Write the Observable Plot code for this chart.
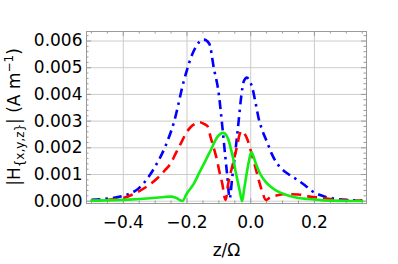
<!DOCTYPE html>
<html>
<head>
<meta charset="utf-8">
<script src="https://cdn.jsdelivr.net/npm/d3@7"></script>
<script src="https://cdn.jsdelivr.net/npm/@observablehq/plot@0.6"></script>
<style>
  html, body { margin: 0; padding: 0; background: #fff; }
  #chart { width: 398px; height: 264px; }
</style>
</head>
<body>
<div id="chart"></div>
<script>
// ---- data ----
const blueZ = [-0.5, -0.45, -0.4, -0.35, -0.3, -0.27, -0.24, -0.21, -0.18, -0.16, -0.147, -0.13, -0.116, -0.1, -0.09, -0.08, -0.074, -0.066, -0.058, -0.053, -0.045, -0.037, -0.03, -0.022, -0.012, -0.003, 0.005, 0.015, 0.025, 0.038, 0.052, 0.065, 0.078, 0.094, 0.12, 0.146, 0.17, 0.19, 0.22, 0.26, 0.3, 0.35];
const blueH = [0.00005, 0.0001, 0.0002, 0.0005, 0.0013, 0.002, 0.003, 0.0045, 0.0056, 0.00598, 0.00605, 0.0059, 0.005, 0.004, 0.0029, 0.0017, 0.001, 0.0001, 0.0009, 0.0014, 0.0022, 0.0031, 0.0039, 0.00448, 0.00463, 0.0045, 0.00425, 0.0037, 0.0031, 0.0026, 0.0022, 0.0018, 0.0015, 0.00125, 0.001, 0.0008, 0.0006, 0.0004, 0.00022, 0.0001, 0.00005, 0.00003];

const redZ = [-0.5, -0.45, -0.4, -0.356, -0.32, -0.294, -0.27, -0.252, -0.235, -0.22, -0.2, -0.189, -0.175, -0.16, -0.147, -0.135, -0.126, -0.116, -0.105, -0.1, -0.09, -0.079, -0.07, -0.058, -0.05, -0.042, -0.035, -0.027, -0.018, -0.01, 0, 0.015, 0.025, 0.035, 0.048, 0.062, 0.083, 0.1, 0.12, 0.15, 0.18, 0.22, 0.26, 0.3, 0.35];
const redH = [0.00002, 0.00005, 0.00012, 0.00034, 0.0006, 0.00085, 0.00115, 0.0014, 0.0018, 0.00215, 0.0026, 0.00277, 0.0029, 0.00296, 0.0029, 0.0028, 0.0024, 0.002, 0.0015, 0.0012, 0.0007, 0.00005, 0.0007, 0.0013, 0.0017, 0.0021, 0.0025, 0.00263, 0.0025, 0.0023, 0.0019, 0.00125, 0.0008, 0.0004, 0.00005, 0.00015, 0.00022, 0.00026, 0.00026, 0.00025, 0.00018, 0.00013, 0.00006, 0.00003, 0.00002];

const greenZ = [-0.5, -0.45, -0.4, -0.35, -0.3, -0.27, -0.25, -0.235, -0.215, -0.2, -0.179, -0.16, -0.147, -0.126, -0.105, -0.095, -0.086, -0.078, -0.07, -0.063, -0.055, -0.048, -0.04, -0.033, -0.027, -0.02, -0.011, -0.004, 0.002, 0.008, 0.015, 0.023, 0.031, 0.045, 0.062, 0.08, 0.094, 0.115, 0.146, 0.18, 0.22, 0.26, 0.3, 0.35];
const greenH = [0.00002, 0.00003, 0.00005, 0.00008, 0.00013, 0.00016, 0.00017, 0.00013, 0.00001, 0.0003, 0.00065, 0.0011, 0.0014, 0.0019, 0.0024, 0.00252, 0.00256, 0.0025, 0.0023, 0.002, 0.0016, 0.00115, 0.0007, 0.0003, 0.0, 0.0005, 0.00115, 0.0016, 0.00184, 0.0017, 0.00145, 0.0012, 0.001, 0.00075, 0.00055, 0.0004, 0.00032, 0.00022, 0.00013, 0.00008, 0.00004, 0.00002, 0.00001, 0.00001];

const xMajor = [-0.4, -0.2, 0.0, 0.2];
const xMinor = [-0.5, -0.45, -0.35, -0.3, -0.25, -0.15, -0.1, -0.05, 0.05, 0.1, 0.15, 0.25, 0.3, 0.35];
const yMajor = [0, 0.001, 0.002, 0.003, 0.004, 0.005, 0.006];
const yMinor = d3.range(1, 32).filter(i => i % 5 !== 0).map(i => i * 0.0002);

const xLabel = "z/Ω";

// ---- build tables ----
const toRows = (zs, hs) => zs.map((z, i) => ({z, h: hs[i]}));
const blue = toRows(blueZ, blueH);
const red = toRows(redZ, redH);
const green = toRows(greenZ, greenH);

const W = 398, H = 264;
const mL = 86, mR = 32, mT = 31, mB = 61;
const fH = H - mT - mB, fW = W - mL - mR;
const frameGray = "#9a9a9a";

const plot = Plot.plot({
  width: W,
  height: H,
  marginLeft: mL,
  marginRight: mR,
  marginTop: mT,
  marginBottom: mB,
  style: {fontFamily: "DejaVu Sans", fontSize: "17px", background: "white", color: "black"},
  x: {domain: [-0.5155, 0.3635]},
  y: {domain: [-0.000086, 0.006356]},
  marks: [
    Plot.gridX(xMajor, {stroke: "#cccccc", strokeOpacity: 1}),
    Plot.gridY(yMajor, {stroke: "#cccccc", strokeOpacity: 1}),
    // inward frame ticks
    Plot.ruleX(xMajor, {x: d => d, insetTop: fH - 5, stroke: frameGray}),
    Plot.ruleX(xMajor, {x: d => d, insetBottom: fH - 5, stroke: frameGray}),
    Plot.ruleX(xMinor, {x: d => d, insetTop: fH - 2.5, stroke: frameGray}),
    Plot.ruleX(xMinor, {x: d => d, insetBottom: fH - 2.5, stroke: frameGray}),
    Plot.ruleY(yMajor, {y: d => d, insetRight: fW - 5, stroke: frameGray}),
    Plot.ruleY(yMajor, {y: d => d, insetLeft: fW - 5, stroke: frameGray}),
    Plot.ruleY(yMinor, {y: d => d, insetRight: fW - 2.5, stroke: frameGray}),
    Plot.ruleY(yMinor, {y: d => d, insetLeft: fW - 2.5, stroke: frameGray}),
    Plot.frame({stroke: frameGray}),
    Plot.line(blue, {x: "z", y: "h", stroke: "#0000ff", strokeWidth: 2.6, strokeDasharray: "9,5,2.5,5", strokeLinecap: "butt", curve: "monotone-x"}),
    Plot.line(red, {x: "z", y: "h", stroke: "#ff0000", strokeWidth: 2.6, strokeDasharray: "10,6", strokeLinecap: "butt", curve: "monotone-x"}),
    Plot.line(green, {x: "z", y: "h", stroke: "#11ee11", strokeWidth: 2.6, curve: "monotone-x"}),
    Plot.axisY({ticks: yMajor, tickSize: 0, tickPadding: 4, tickFormat: d3.format(".3f"), fontSize: 17, label: null}),
    Plot.axisX({ticks: xMajor, tickSize: 0, tickPadding: 12, tickFormat: d3.format(".1f"), fontSize: 17, label: null}),
    Plot.text([xLabel], {frameAnchor: "bottom", dy: 47, lineAnchor: "middle", fontSize: 17, text: d => d})
  ]
});

document.getElementById("chart").appendChild(plot);

// y-axis label with subscript and superscript
const svg = d3.select(plot);
const t = svg.append("text")
  .attr("transform", `translate(19.5,${mT + fH / 2}) rotate(-90)`)
  .attr("text-anchor", "middle")
  .attr("font-family", "DejaVu Sans")
  .attr("font-size", 17)
  .attr("fill", "black");
t.append("tspan").text("|H");
t.append("tspan").attr("font-size", 12).attr("dy", 4).text("{x,y,z}");
t.append("tspan").attr("dy", -4).text("| (A m");
t.append("tspan").attr("font-size", 12).attr("dy", -7).text("−1");
t.append("tspan").attr("dy", 7).text(")");
</script>
</body>
</html>
